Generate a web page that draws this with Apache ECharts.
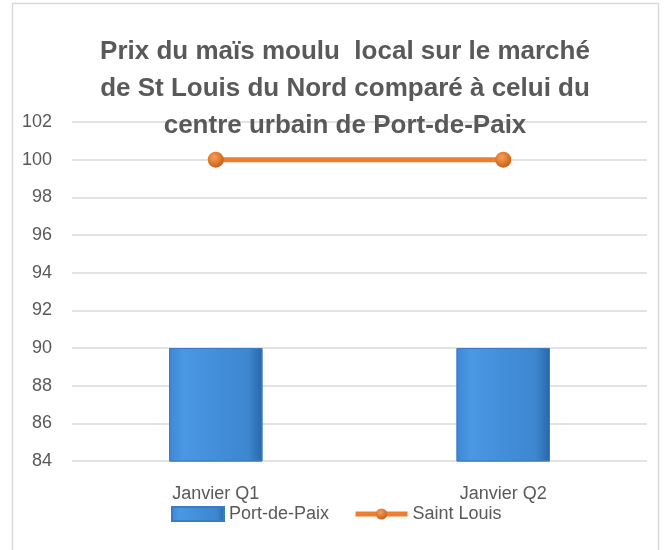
<!DOCTYPE html>
<html>
<head>
<meta charset="utf-8">
<script src="https://cdn.jsdelivr.net/npm/echarts@6/dist/echarts.min.js"></script>
<style>
  html, body { margin: 0; padding: 0; background: #fff; }
  #main { width: 665px; height: 550px; }
</style>
</head>
<body>
<div id="main"></div>
<script>
var categories = ['Janvier Q1', 'Janvier Q2'];
var portDePaix = [90, 90];
var saintLouis = [100, 100];
var yMin = 84, yMax = 102, yStep = 2;

var chart = echarts.init(document.getElementById('main'));
var textColor = '#595959';
var font = 'Liberation Sans';

var option = {
    backgroundColor: '#fff',
    title: {
        text: 'Prix du maïs moulu  local sur le marché\nde St Louis du Nord comparé à celui du\ncentre urbain de Port-de-Paix',
        left: 340,
        textAlign: 'center',
        top: 28,
        textStyle: {
            color: textColor,
            fontFamily: font,
            fontWeight: 'bold',
            fontSize: 26,
            lineHeight: 37
        }
    },
    graphic: [{
        type: 'rect',
        shape: { x: 12.5, y: 3.5, width: 646, height: 560 },
        style: { fill: 'none', stroke: '#d9d9d9', lineWidth: 1.5 },
        silent: true
    }],
    legend: {
        bottom: 22,
        left: 166,
        itemGap: 24,
        itemWidth: 52,
        itemHeight: 14,
        textStyle: { color: textColor, fontFamily: font, fontSize: 18 },
        lineStyle: { width: 5 },
        data: [
            { name: 'Port-de-Paix', icon: 'rect' },
            { name: 'Saint Louis' }
        ]
    },
    grid: { left: 72, right: 18, top: 122, bottom: 89, containLabel: false },
    xAxis: {
        type: 'category',
        data: categories,
        axisLine: { show: false },
        axisTick: { show: false },
        axisLabel: { color: textColor, fontFamily: font, fontSize: 18, margin: 24 }
    },
    yAxis: {
        type: 'value',
        min: yMin,
        max: yMax,
        interval: yStep,
        axisLine: { show: false },
        axisTick: { show: false },
        splitLine: { lineStyle: { color: '#d9d9d9', width: 1.5 } },
        axisLabel: { color: textColor, fontFamily: font, fontSize: 18, margin: 20 }
    },
    series: [
        {
            name: 'Port-de-Paix',
            type: 'bar',
            data: portDePaix,
            barWidth: '32.5%',
            z: 2,
            itemStyle: {
                color: new echarts.graphic.LinearGradient(0, 0, 1, 0, [
                    { offset: 0, color: '#3f87d6' },
                    { offset: 0.15, color: '#4a97e3' },
                    { offset: 0.85, color: '#3d86d0' },
                    { offset: 1, color: '#2a66a8' }
                ]),
                borderColor: '#3a7cc4',
                borderWidth: 1
            }
        },
        {
            name: 'Saint Louis',
            type: 'line',
            data: saintLouis,
            symbol: 'circle',
            symbolSize: 16,
            z: 3,
            lineStyle: { color: '#ED7D31', width: 5 },
            itemStyle: {
                color: new echarts.graphic.RadialGradient(0.4, 0.35, 0.7, [
                    { offset: 0, color: '#f7a056' },
                    { offset: 1, color: '#c85a12' }
                ])
            }
        }
    ]
};

chart.setOption(option);
</script>
</body>
</html>
